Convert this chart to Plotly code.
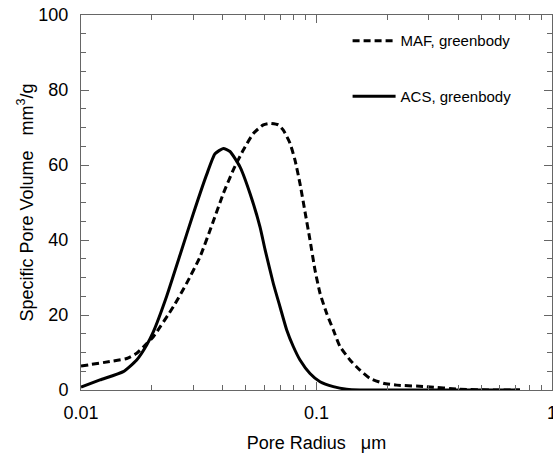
import plotly.graph_objects as go

# MAF, greenbody (dashed)
maf_r = [0.0100, 0.01328, 0.01564, 0.01724, 0.01901, 0.02028, 0.02466, 0.02811, 0.03201,
         0.03646, 0.04021, 0.04434, 0.04889, 0.05391, 0.05944, 0.06347, 0.06884, 0.07228,
         0.07718, 0.08104, 0.08511, 0.08938, 0.09384, 0.09854, 0.1035, 0.1105, 0.1179,
         0.1258, 0.1388, 0.1530, 0.1687, 0.1922, 0.2191, 0.2937, 0.4068, 0.5617, 0.7311]
maf_v = [6.4, 7.6, 8.4, 9.8, 12.4, 14.2, 22.2, 28.5, 35.5,
         45.0, 52.4, 58.7, 64.0, 68.4, 70.7, 71.1, 70.7, 69.3,
         65.8, 61.3, 55.0, 47.5, 40.0, 32.0, 25.8, 20.4, 16.0,
         11.6, 8.0, 5.3, 3.1, 1.8, 1.3, 0.9, 0.2, 0.0, 0.0]

# ACS, greenbody (solid)
acs_r = [0.0100, 0.01204, 0.01512, 0.01724, 0.01901, 0.02028, 0.02311, 0.02633, 0.02998,
         0.03419, 0.03707, 0.04021, 0.04293, 0.04733, 0.05220, 0.05755, 0.06044, 0.06556,
         0.06998, 0.07473, 0.07970, 0.08511, 0.09384, 0.1035, 0.1179, 0.1343, 0.1530,
         0.2191, 0.7311]
acs_v = [0.8, 2.7, 4.9, 8.0, 12.0, 15.5, 25.0, 36.0, 47.0,
         57.5, 63.0, 64.4, 63.6, 59.5, 52.4, 43.5, 37.5, 28.4,
         22.2, 16.0, 11.6, 8.0, 4.4, 2.2, 0.9, 0.2, 0.0,
         0.0, 0.0]

x_tickvals = [0.01, 0.1, 1]
x_ticktext = ["0.01", "0.1", "1"]
y_tickvals = [0, 20, 40, 60, 80, 100]

FONT = "Liberation Sans, Arial, sans-serif"
AXC = "#666666"

fig = go.Figure()
fig.add_trace(go.Scatter(x=maf_r, y=maf_v, mode="lines", name="MAF, greenbody",
                         legendgroup="a", cliponaxis=False,
                         line=dict(color="black", width=3, dash="7px,4px", shape="spline", smoothing=0.5)))
fig.add_trace(go.Scatter(x=acs_r, y=acs_v, mode="lines", name="ACS, greenbody",
                         legendgroup="b", cliponaxis=False,
                         line=dict(color="black", width=3, shape="spline", smoothing=0.5)))

fig.update_layout(
    width=553, height=455,
    margin=dict(l=81, r=1, t=15, b=65, autoexpand=False),
    paper_bgcolor="white", plot_bgcolor="white",
    font=dict(family=FONT, color="black"),
    showlegend=True,
    legend=dict(x=0.566, y=0.975, xanchor="left", yanchor="top",
                bgcolor="rgba(0,0,0,0)", borderwidth=0,
                font=dict(size=15, family=FONT), itemwidth=43,
                tracegroupgap=33, traceorder="grouped"),
    xaxis=dict(type="log", range=[-2, 0], tickvals=x_tickvals, ticktext=x_ticktext,
               showline=True, linecolor=AXC, linewidth=1, mirror="ticks",
               ticks="inside", ticklen=8, tickcolor=AXC, showgrid=False, zeroline=False,
               tickfont=dict(size=18), ticklabelstandoff=6, ticklabeloverflow="allow",
               minor=dict(ticks="inside", ticklen=5, tickcolor=AXC, dtick="D1", showgrid=False),
               title=dict(text="Pore Radius\u00a0\u00a0\u00a0μm", font=dict(size=18), standoff=14)),
    yaxis=dict(range=[0, 100], tickvals=y_tickvals,
               showline=True, linecolor=AXC, linewidth=1, mirror="ticks",
               ticks="inside", ticklen=8, tickcolor=AXC, showgrid=False, zeroline=False,
               tickfont=dict(size=18), ticklabelstandoff=8,
               minor=dict(ticks="inside", ticklen=5, tickcolor=AXC, dtick=5, showgrid=False),
               title=dict(text="Specific Pore Volume\u00a0\u00a0\u00a0mm<sup>3</sup>/g", font=dict(size=18), standoff=0)),
)

fig.write_html("out.html")
